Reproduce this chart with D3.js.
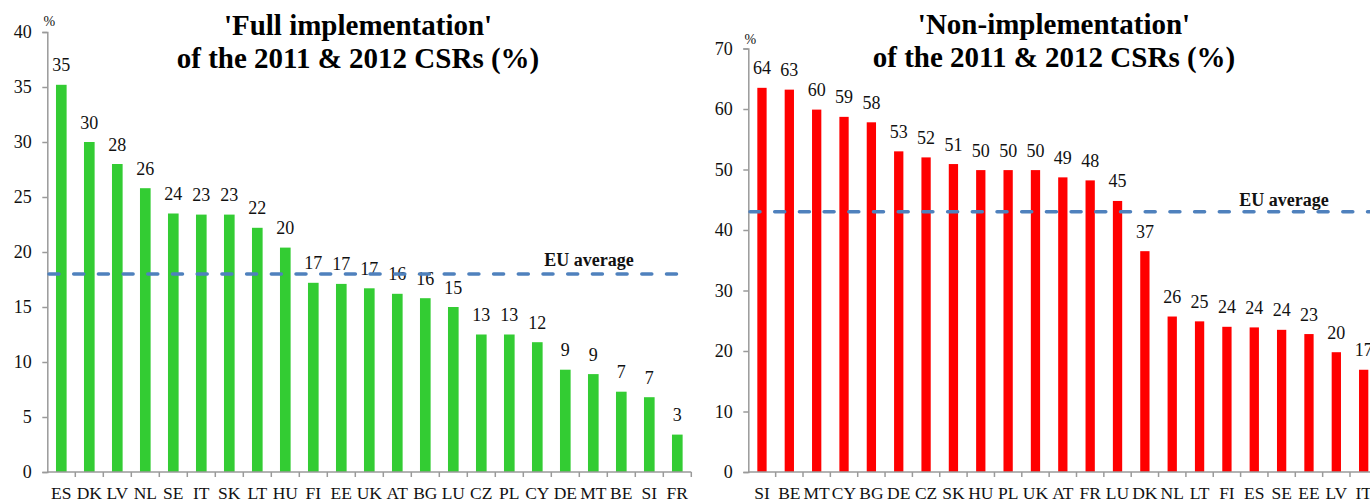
<!DOCTYPE html>
<html>
<head>
<meta charset="utf-8">
<script src="https://cdn.jsdelivr.net/npm/d3@7/dist/d3.min.js"></script>
<style>
  html, body { margin: 0; padding: 0; background: #fff; }
  svg { display: block; }
  svg text { font-family: "Liberation Serif", "Times New Roman", serif; }
</style>
</head>
<body>
<svg id="chart" width="1370" height="502" font-family="Liberation Serif, Times New Roman, serif"></svg>
<script>
// Share of 2011 & 2012 country-specific recommendations fully implemented (%)
const fullCountries = ["ES","DK","LV","NL","SE","IT","SK","LT","HU","FI","EE","UK","AT","BG","LU","CZ","PL","CY","DE","MT","BE","SI","FR"];
const fullValues = [35.2, 30.0, 28.0, 25.8, 23.5, 23.4, 23.4, 22.2, 20.4, 17.2, 17.1, 16.7, 16.2, 15.8, 15.0, 12.5, 12.5, 11.8, 9.3, 8.9, 7.3, 6.8, 3.4];
const fullAverage = 18;
const fullTicks = [0, 5, 10, 15, 20, 25, 30, 35, 40];

// Share of 2011 & 2012 country-specific recommendations not implemented (%)
const nonCountries = ["SI","BE","MT","CY","BG","DE","CZ","SK","HU","PL","UK","AT","FR","LU","DK","NL","LT","FI","ES","SE","EE","LV","IT"];
const nonValues = [63.5, 63.2, 59.9, 58.7, 57.8, 53.0, 52.0, 50.9, 49.9, 49.9, 49.9, 48.7, 48.2, 44.8, 36.5, 25.7, 24.9, 24.0, 23.9, 23.5, 22.8, 19.8, 16.9];
const nonAverage = 43;
const nonTicks = [0, 10, 20, 30, 40, 50, 60, 70];

const titleLines = {
  full: ["'Full implementation'", "of the 2011 & 2012 CSRs (%)"],
  non: ["'Non-implementation'", "of the 2011 & 2012 CSRs (%)"]
};

const svg = d3.select("#chart");

function drawPanel(opt) {
  const g = svg.append("g");

  const x = d3.scaleBand()
    .domain(opt.categories)
    .range([opt.left, opt.left + opt.band * opt.categories.length])
    .paddingInner(0).paddingOuter(0);

  const y = d3.scaleLinear()
    .domain([0, opt.max])
    .range([opt.bottom, opt.top]);

  const barW = opt.band * opt.barRatio;

  // bars
  g.append("g").selectAll("rect")
    .data(opt.values)
    .join("rect")
    .attr("x", (d, i) => x(opt.categories[i]) + (x.bandwidth() - barW) / 2)
    .attr("y", d => y(d))
    .attr("width", barW)
    .attr("height", d => y(0) - y(d))
    .attr("fill", opt.color);

  // value labels
  g.append("g").selectAll("text")
    .data(opt.values)
    .join("text")
    .attr("x", (d, i) => x(opt.categories[i]) + x.bandwidth() / 2)
    .attr("y", d => y(d) - 13.5)
    .attr("text-anchor", "middle")
    .attr("font-size", 18)
    .attr("fill", "#111")
    .text(d => Math.round(d));

  // y axis
  const yAxis = d3.axisLeft(y)
    .tickValues(opt.ticks)
    .tickSize(5)
    .tickPadding(10.5);
  const ya = g.append("g")
    .attr("transform", `translate(${opt.left},0)`)
    .call(yAxis)
    .attr("font-family", null);
  ya.select(".domain").attr("stroke", "#9a9a9a").attr("stroke-width", 1.5);
  ya.selectAll(".tick line").attr("stroke", "#9a9a9a").attr("stroke-width", 1.5);
  ya.selectAll(".tick text")
    .attr("font-size", 18)
    .attr("fill", "#111");

  // x axis with ticks on category boundaries
  const xa = g.append("g")
    .attr("transform", `translate(0,${opt.bottom})`);
  const [r0, r1] = x.range();
  xa.append("line")
    .attr("x1", r0).attr("x2", r1)
    .attr("stroke", "#9a9a9a").attr("stroke-width", 1.5);
  xa.selectAll("line.tick")
    .data(opt.categories.map((c, i) => i + 1))
    .join("line")
    .attr("class", "tick")
    .attr("x1", i => r0 + i * x.step())
    .attr("x2", i => r0 + i * x.step())
    .attr("y1", 0).attr("y2", 5)
    .attr("stroke", "#9a9a9a").attr("stroke-width", 1.5);
  xa.selectAll("text")
    .data(opt.categories)
    .join("text")
    .attr("x", d => x(d) + x.bandwidth() / 2)
    .attr("y", 27)
    .attr("text-anchor", "middle")
    .attr("font-size", 17.5)
    .attr("fill", "#111")
    .text(d => d);

  // unit label
  g.append("text")
    .attr("x", opt.left + 2)
    .attr("y", opt.unitY)
    .attr("text-anchor", "middle")
    .attr("font-size", 14)
    .attr("fill", "#111")
    .text("%");

  // EU average reference line
  g.append("line")
    .attr("x1", opt.avgStart)
    .attr("x2", opt.avgEnd)
    .attr("y1", y(opt.average))
    .attr("y2", y(opt.average))
    .attr("stroke", "#4f81bd")
    .attr("stroke-width", 3.5)
    .attr("stroke-linecap", "round")
    .attr("stroke-dasharray", "10,14.7");

  g.append("text")
    .attr("x", opt.avgLabelX)
    .attr("y", y(opt.average) - opt.avgLabelGap)
    .attr("text-anchor", "middle")
    .attr("font-size", 18)
    .attr("font-weight", "bold")
    .attr("fill", "#111")
    .text("EU average");

  // title
  const t = g.append("text")
    .attr("text-anchor", "middle")
    .attr("font-size", 29)
    .attr("font-weight", "bold")
    .attr("fill", "#000");
  opt.title.forEach((line, i) => {
    t.append("tspan")
      .attr("x", opt.titleX)
      .attr("y", opt.titleY + i * 33)
      .text(line);
  });
}

drawPanel({
  categories: fullCountries,
  values: fullValues,
  average: fullAverage,
  ticks: fullTicks,
  max: 40,
  color: "#33cc33",
  left: 47.3, band: 28.0, barRatio: 0.38,
  top: 32, bottom: 472,
  unitY: 26,
  avgStart: 49, avgEnd: 677,
  avgLabelX: 589, avgLabelGap: 8,
  title: titleLines.full, titleX: 358, titleY: 35
});

drawPanel({
  categories: nonCountries,
  values: nonValues,
  average: nonAverage,
  ticks: nonTicks,
  max: 70,
  color: "#ff0000",
  left: 748.3, band: 27.35, barRatio: 0.34,
  top: 48.5, bottom: 472,
  unitY: 44,
  avgStart: 750, avgEnd: 1380,
  avgLabelX: 1284, avgLabelGap: 5.5,
  title: titleLines.non, titleX: 1054, titleY: 33.5
});
</script>
</body>
</html>
